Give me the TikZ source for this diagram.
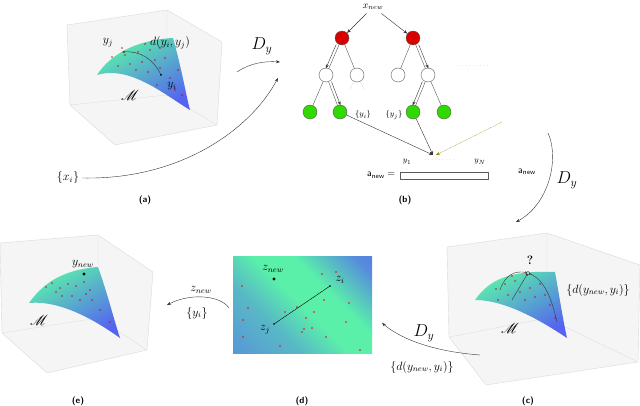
\documentclass[tikz,border=0pt]{standalone}
\usepackage{amsmath}
\usepackage{mathrsfs}
\usetikzlibrary{arrows.meta,positioning}
\definecolor{mgreen}{RGB}{90,240,170}
\definecolor{mblue}{RGB}{85,100,240}
\pgfdeclarehorizontalshading{band}{100bp}{color(0bp)=(mblue!80!mgreen); color(35bp)=(mblue!40!mgreen); color(50bp)=(mgreen); color(62bp)=(mgreen); color(80bp)=(mblue!70!mgreen); color(100bp)=(mblue)}
\tikzset{
  box/.style={fill=gray!8, draw=gray!30},
  boxedge/.style={draw=gray!25},
  surf/.style={top color=mgreen, bottom color=mblue, shading angle=30},
  pt/.style={fill=red!75!black, opacity=0.55},
  lbl/.style={font=\sffamily\bfseries\small},
  flow/.style={-{Stealth[length=4pt]}, black!80, thin},
  tnode/.style={circle, draw=gray!70!black, minimum size=14pt, inner sep=0pt},
  red node/.style={tnode, fill=red!85!black},
  leaf/.style={tnode, fill=green!80!black!75!lime},
  empty/.style={tnode, fill=white},
  mani/.style={font=\Large},
}
\begin{document}
\begin{tikzpicture}[x=1pt, y=-1pt, line join=round, line cap=round, font=\large]
\useasboundingbox (0,0) rectangle (640,406);

% (a) manifold box
\draw[box] (67,25) -- (167,10) -- (222,42) -- (217,125) -- (115,145) -- (70,105) -- cycle;
\draw[boxedge] (167,10) -- (167,95) -- (70,105) (167,95) -- (217,125);
\shade[surf] (97,75) .. controls (110,55) and (135,40) .. (173,38)
  .. controls (182,70) and (186,95) .. (190,110) .. controls (165,95) and (130,65) .. cycle;
\foreach \x/\y in {112/57, 125/55, 138/52, 150/50, 160/48, 118/66, 130/64, 142/62, 155/60, 136/70, 148/72, 160/68, 170/78, 175/90, 182/95, 122/48, 145/44, 165/58, 178/70, 157/85} {
  \fill[pt] (\x,\y) circle (1.1);
}
\coordinate (yi) at (161,75);
\coordinate (yj) at (122,52);
\draw[-{Stealth[length=3pt]}, black!80] (yi) to[bend right=35] (yj);
\fill (yi) circle (1);
\node (yjlbl) at (108,43) {$y_j$};
\node (dlbl) at (170,43) {$d(y_i,y_j)$};
\node (yilbl) at (172,86) {$y_i$};
\node[mani] (Ma) at (130,95) {$\mathscr{M}$};
\node[lbl] (la) at (145,200) {(a)};
\node (xi) at (68,178) {$\{x_i\}$};
\coordinate (ain) at (278,78);
\draw[flow] (xi.east) .. controls (180,180) and (250,130) .. (ain);
\coordinate (d1s) at (237,72);
\coordinate (d1e) at (280,62);
\draw[flow] (d1s) .. controls (250,63) and (265,61) .. (d1e);
\node[font=\LARGE] (Dy1) at (262,46) {$D_y$};

% (b) forest
\node[font=\normalsize] (xnew) at (373,7) {$x_{new}$};
\node[red node] (r1) at (342,38) {};
\node[red node] (r2) at (413,38) {};
\node[empty] (w1) at (326,75) {};
\node[empty] (w2) at (357,75) {};
\node[empty] (w3) at (398,75) {};
\node[empty] (w4) at (428,75) {};
\node[leaf] (g1) at (310,112) {};
\node[leaf] (g2) at (340,112) {};
\node[leaf] (g3) at (413,112) {};
\node[leaf] (g4) at (444,112) {};
\draw[flow] (xnew) -- (r1);
\draw[flow] (xnew) -- (r2);
\draw[gray!70!black] (r1) -- (w1) (r1) -- (w2) (r2) -- (w3) (r2) -- (w4)
  (w1) -- (g1) (w1) -- (g2) (w4) -- (g3) (w4) -- (g4);
\draw[gray!30] (w2) -- ++(-7,14) (w2) -- ++(7,14);
\draw[flow, transform canvas={xshift=-3pt}] (r1) -- (w1);
\draw[flow, transform canvas={xshift=3pt}] (w1) -- (g2);
\draw[flow, transform canvas={xshift=3pt}] (r2) -- (w4);
\draw[flow, transform canvas={xshift=-3pt}] (w4) -- (g3);
\node[font=\footnotesize] (yis) at (363,115) {$\{y_i\}$};
\node[font=\footnotesize] (yjs) at (394,115) {$\{y_j\}$};
\node[gray] (more) at (474,66) {\tiny$\cdots\cdots\cdots$};
\node[draw=gray!70!black, minimum width=88pt, minimum height=7pt, inner sep=0pt] (anew) at (444,175.5) {};
\node[left=1pt of anew, font=\sffamily] (anewlbl) {$\mathsf{a}_{\mathsf{new}}=$};
\node[font=\footnotesize] (y1) at (407,162) {$y_1$};
\node[font=\footnotesize] (yN) at (480,162) {$y_N$};
\node[gray] at (440,160) {\tiny$\cdots\cdots\cdots$};
\coordinate (bin) at (433,155);
\coordinate (bfar) at (502,122);
\draw[flow] (g2) -- (bin);
\draw[flow] (g3) -- (bin);
\draw[flow, olive, densely dotted] (bfar) -- (436,155);
\node[lbl] (lb) at (405,200) {(b)};
\coordinate (r3s) at (548,133);
\coordinate (r3e) at (516,222);
\draw[flow] (r3s) .. controls (560,160) and (548,205) .. (r3e);
\node[font=\sffamily] (anew2) at (527,172) {$\mathsf{a}_{\mathsf{new}}$};
\node[font=\LARGE] (Dy2) at (567,180) {$D_y$};

% (c) manifold box
\draw[box] (447,247) -- (547,233) -- (640,265) -- (638,362) -- (486,385) -- (449,337) -- cycle;
\draw[boxedge] (547,233) -- (547,318) -- (449,337) (547,318) -- (638,362);
\shade[surf] (475,300) .. controls (488,282) and (505,270) .. (555,272)
  .. controls (560,300) and (563,320) .. (567,338) .. controls (540,320) and (505,300) .. cycle;
\foreach \x/\y in {496/289, 505/284, 515/281, 508/295, 520/292, 530/288, 540/284, 525/300, 535/297, 545/295, 550/305, 555/318, 512/276, 498/300} {
  \fill[pt] (\x,\y) circle (1.1);
}
\coordinate (q) at (528,273);
\coordinate (qa) at (512,300);
\coordinate (qb) at (557,322);
\coordinate (qc) at (500,290);
\draw[-{Stealth[length=3pt]}, black!80] (qa) -- (q);
\draw[-{Stealth[length=3pt]}, black!80] (qb) .. controls (552,300) and (545,280) .. (q);
\draw[-{Stealth[length=3pt]}, black!80] (qc) .. controls (505,275) and (515,270) .. (q);
\draw[fill=white] (q) circle (1.6);
\node[font=\bfseries\large] (qm) at (530,260) {?};
\node (dset) at (598,290) {$\{d(y_{new},y_i)\}$};
\node[mani] (Mc) at (510,328) {$\mathscr{M}$};
\node[lbl] (lc) at (528,401) {(c)};
\coordinate (cs) at (480,355);
\coordinate (ce) at (382,323);
\draw[flow] (cs) .. controls (440,352) and (405,342) .. (ce);
\node[font=\LARGE] (Dy3) at (424,333) {$D_y$};
\node (dset2) at (422,367) {$\{d(y_{new},y_i)\}$};

% (d) embedding
\shade[shading=band, shading angle=45] (233,257) rectangle (372,353);
\foreach \x/\y in {242/286, 248/308, 243/320, 243/337, 280/346, 302/332, 326/337, 360/350, 336/272, 314/312, 304/329, 285/312, 306/318, 324/300, 349/303, 346/322, 297/307, 322/274, 312/328} {
  \fill[red] (\x,\y) circle (0.9);
}
\coordinate (zi) at (330,286);
\coordinate (zj) at (274,324);
\draw[black] (zi) -- (zj);
\fill (zi) circle (0.9) (zj) circle (0.9);
\fill (274,279) circle (1.6);
\node (znew) at (273,269) {$z_{new}$};
\node (zil) at (340,280) {$z_i$};
\node (zjl) at (265,330) {$z_j$};
\node[lbl] (ld) at (302,401) {(d)};
\coordinate (ds) at (229,308);
\coordinate (de) at (167,305);
\draw[flow] (ds) .. controls (220,295) and (190,293) .. (de);
\node (znew2) at (201,290) {$z_{new}$};
\node (yis2) at (197,313) {$\{y_i\}$};

% (e) manifold box
\draw[box] (0,243) -- (98,235) -- (153,272) -- (147,350) -- (47,373) -- (2,333) -- cycle;
\draw[boxedge] (98,235) -- (98,318) -- (2,333) (98,318) -- (147,350);
\shade[surf] (29,303) .. controls (42,285) and (60,270) .. (98,267)
  .. controls (108,295) and (114,320) .. (120,338) .. controls (95,320) and (60,300) .. cycle;
\foreach \x/\y in {46/287, 52/283, 60/288, 68/284, 76/286, 84/282, 90/290, 62/296, 72/296, 80/300, 92/300, 100/310, 110/322, 86/294, 56/292} {
  \fill[pt] (\x,\y) circle (1.1);
}
\fill (84,274) circle (1.6);
\node (ynew) at (83,264) {$y_{new}$};
\node[mani] (Me) at (39,320) {$\mathscr{M}$};
\node[lbl] (le) at (78,401) {(e)};
\end{tikzpicture}
\end{document}
